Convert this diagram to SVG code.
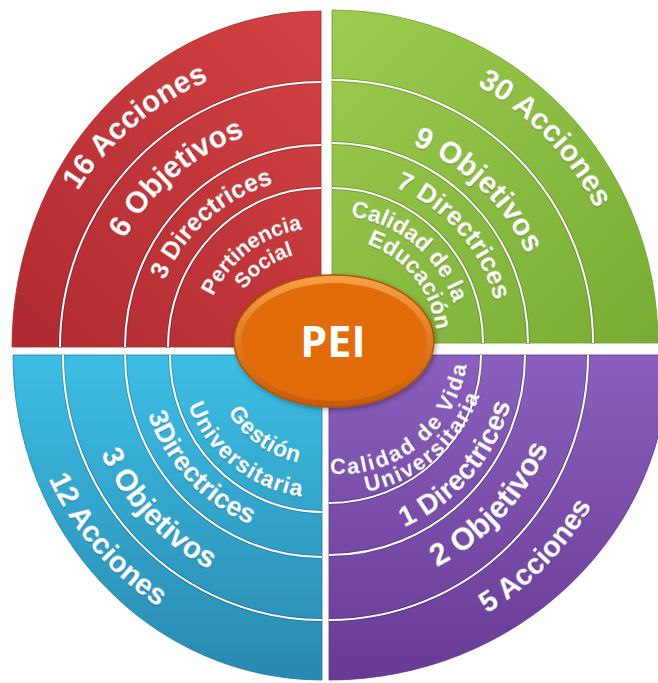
<svg xmlns="http://www.w3.org/2000/svg" xmlns:xlink="http://www.w3.org/1999/xlink" width="658" height="683" viewBox="0 0 658 683">
<style>
.lbl{font-family:"Liberation Sans",Arial,"DejaVu Sans",sans-serif;font-weight:bold;fill:#ffffff;filter:url(#ts)}
.ring{fill:none;stroke:#ffffff;stroke-width:2}
.rsh{fill:none;stroke:#000;stroke-opacity:0.18;stroke-width:4}
.pei{font-family:"Open Sans","Noto Sans","Liberation Sans",sans-serif;font-weight:bold;fill:#ffffff}
</style>
<defs>
<filter id="ts" x="-10%" y="-10%" width="120%" height="120%"><feDropShadow dx="0.8" dy="0.8" stdDeviation="0.7" flood-color="#000" flood-opacity="0.35"/></filter>
<filter id="sh" x="-20%" y="-20%" width="140%" height="140%"><feDropShadow dx="1.5" dy="2" stdDeviation="2.5" flood-color="#000" flood-opacity="0.35"/></filter>
<linearGradient id="gR" x1="1" y1="0" x2="0" y2="1"><stop offset="0" stop-color="#d44244"/><stop offset="1" stop-color="#ae2a30"/></linearGradient>
<linearGradient id="gG" x1="0" y1="0" x2="1" y2="1"><stop offset="0" stop-color="#9ccb4f"/><stop offset="1" stop-color="#79ab34"/></linearGradient>
<linearGradient id="gB" x1="0" y1="0" x2="0" y2="1"><stop offset="0" stop-color="#3dbde4"/><stop offset="1" stop-color="#2989b0"/></linearGradient>
<linearGradient id="gP" x1="0" y1="0" x2="0" y2="1"><stop offset="0" stop-color="#8b5fbd"/><stop offset="1" stop-color="#673b95"/></linearGradient>
<linearGradient id="gO" x1="0" y1="0" x2="0" y2="1"><stop offset="0" stop-color="#f7a047"/><stop offset="1" stop-color="#c75a04"/></linearGradient>
<!-- text baselines: top quadrants (tops outward) -->
<path id="t289" d="M-250.3,-144.5 A289,289 0 0 1 250.3,-144.5"/>
<path id="t224" d="M-194,-112 A224,224 0 0 1 194,-112"/>
<path id="t170" d="M-147.2,-85 A170,170 0 0 1 147.2,-85"/>
<path id="t119" d="M-103.1,-59.5 A119,119 0 0 1 103.1,-59.5"/>
<path id="t96" d="M-83.1,-48 A96,96 0 0 1 83.1,-48"/>
<path id="t296" d="M-256.3,-148 A296,296 0 0 1 256.3,-148"/>
<path id="t214" d="M-185.3,-107 A214,214 0 0 1 185.3,-107"/>
<path id="t168" d="M-145.5,-84 A168,168 0 0 1 145.5,-84"/>
<path id="t128" d="M-110.9,-64 A128,128 0 0 1 110.9,-64"/>
<path id="t105" d="M-90.9,-52.5 A105,105 0 0 1 90.9,-52.5"/>
<!-- bottom quadrants (tops inward) -->
<path id="b300" d="M-259.8,150 A300,300 0 0 0 259.8,150"/>
<path id="b242" d="M-209.6,121 A242,242 0 0 0 209.6,121"/>
<path id="b184" d="M-159.3,92 A184,184 0 0 0 159.3,92"/>
<path id="b110" d="M-95.3,55 A110,110 0 0 0 95.3,55"/>
<path id="b143" d="M-123.8,71.5 A143,143 0 0 0 123.8,71.5"/>
<path id="b303" d="M-262.4,151.5 A303,303 0 0 0 262.4,151.5"/>
<path id="b238" d="M-206.1,119 A238,238 0 0 0 206.1,119"/>
<path id="b188" d="M-162.8,94 A188,188 0 0 0 162.8,94"/>
<path id="b128" d="M-110.9,64 A128,128 0 0 0 110.9,64"/>
<path id="b148" d="M-128.2,74 A148,148 0 0 0 128.2,74"/>
</defs>
<rect width="658" height="683" fill="#ffffff"/>

<g id="connectors"/>

<g id="pertinencia-social">
<path d="M321,347 L12,347 A309,336 0 0 1 321,11 Z" fill="url(#gR)" stroke="#a8282c" stroke-width="0.8"/>
<path class="rsh" d="M60,348 A261,265 0 0 1 321,82"/>
<path class="rsh" d="M125,348 A196,202 0 0 1 321,145"/>
<path class="rsh" d="M168,348 A153,159 0 0 1 321,188"/>
<path class="ring" d="M60,347 A261,265 0 0 1 321,82"/>
<path class="ring" d="M125,347 A196,202 0 0 1 321,145"/>
<path class="ring" d="M168,347 A153,159 0 0 1 321,188"/>
<g transform="translate(321,347)">
<text class="lbl" font-size="30" transform="rotate(-40.1)"><textPath href="#t289" startOffset="50%" text-anchor="middle">16 Acciones</textPath></text>
<text class="lbl" font-size="30" transform="rotate(-40.5)"><textPath href="#t224" startOffset="50%" text-anchor="middle">6 Objetivos</textPath></text>
<text class="lbl" font-size="25" transform="rotate(-41.6)"><textPath href="#t170" startOffset="50%" text-anchor="middle">3 Directrices</textPath></text>
<text class="lbl" font-size="21.5" transform="rotate(-37)"><textPath href="#t119" startOffset="50%" text-anchor="middle">Pertinencia</textPath></text>
<text class="lbl" font-size="21" transform="rotate(-35)"><textPath href="#t96" startOffset="50%" text-anchor="middle">Social</textPath></text>
</g>
</g>

<g id="calidad-educacion">
<path d="M332,343 L332,10 A326,333 0 0 1 658,343 Z" fill="url(#gG)" stroke="#6f9e2e" stroke-width="0.8"/>
<path class="rsh" d="M332,80 A261,263 0 0 1 593,344"/>
<path class="rsh" d="M332,143 A196,200 0 0 1 528,344"/>
<path class="rsh" d="M332,188 A151,155 0 0 1 483,344"/>
<path class="ring" d="M332,80 A261,263 0 0 1 593,343" stroke="#eef3e4"/>
<path class="ring" d="M332,143 A196,200 0 0 1 528,343" stroke="#eef3e4"/>
<path class="ring" d="M332,188 A151,155 0 0 1 483,343" stroke="#eef3e4"/>
<g transform="translate(332,343)">
<text class="lbl" font-size="30" transform="rotate(46.2)"><textPath href="#t296" startOffset="50%" text-anchor="middle">30 Acciones</textPath></text>
<text class="lbl" font-size="30" transform="rotate(43.75)"><textPath href="#t214" startOffset="50%" text-anchor="middle">9 Objetivos</textPath></text>
<text class="lbl" font-size="26" transform="rotate(48.75)"><textPath href="#t168" startOffset="50%" text-anchor="middle">7 Directrices</textPath></text>
<text class="lbl" font-size="23" transform="rotate(40)"><textPath href="#t128" startOffset="50%" text-anchor="middle">Calidad de la</textPath></text>
<text class="lbl" font-size="23" transform="rotate(51.1)"><textPath href="#t105" startOffset="50%" text-anchor="middle">Educación</textPath></text>
</g>
</g>

<g id="gestion-universitaria">
<path d="M322,355 L13,355 A309,325 0 0 0 322,680 Z" fill="url(#gB)" stroke="#257c9f" stroke-width="0.8"/>
<path class="rsh" d="M63,355 A259,265 0 0 0 322,620"/>
<path class="rsh" d="M125,355 A197,202 0 0 0 322,557"/>
<path class="rsh" d="M170,355 A152,157 0 0 0 322,512"/>
<path class="ring" d="M63,355 A259,265 0 0 0 322,620" stroke="#e6eef2"/>
<path class="ring" d="M125,355 A197,202 0 0 0 322,557" stroke="#e6eef2"/>
<path class="ring" d="M170,355 A152,157 0 0 0 322,512" stroke="#e6eef2"/>
<g transform="translate(322,355)">
<text class="lbl" font-size="29.5" transform="rotate(49.3)"><textPath href="#b300" startOffset="50%" text-anchor="middle">12 Acciones</textPath></text>
<text class="lbl" font-size="30" transform="rotate(46.8)"><textPath href="#b242" startOffset="50%" text-anchor="middle">3 Objetivos</textPath></text>
<text class="lbl" font-size="27" transform="rotate(47)"><textPath href="#b184" startOffset="50%" text-anchor="middle">3Directrices</textPath></text>
<text class="lbl" font-size="23" letter-spacing="0.5" transform="rotate(35.4)"><textPath href="#b110" startOffset="50%" text-anchor="middle">Gestión</textPath></text>
<text class="lbl" font-size="23" letter-spacing="1" transform="rotate(38.55)"><textPath href="#b143" startOffset="50%" text-anchor="middle">Universitaria</textPath></text>
</g>
</g>

<g id="calidad-vida-universitaria">
<path d="M329,355 L669,355 A340,325 0 0 1 329,680 Z" fill="url(#gP)" stroke="#5e3589" stroke-width="0.8"/>
<path class="rsh" d="M588,355 A259,265 0 0 1 329,620"/>
<path class="rsh" d="M525,355 A196,200 0 0 1 329,555"/>
<path class="rsh" d="M481,355 A152,148 0 0 1 329,503"/>
<path class="ring" d="M588,355 A259,265 0 0 1 329,620"/>
<path class="ring" d="M525,355 A196,200 0 0 1 329,555"/>
<path class="ring" d="M481,355 A152,148 0 0 1 329,503"/>
<g transform="translate(329,355)">
<text class="lbl" font-size="29" transform="rotate(-45.8)"><textPath href="#b303" startOffset="50%" text-anchor="middle">5 Acciones</textPath></text>
<text class="lbl" font-size="31" transform="rotate(-47.1)"><textPath href="#b238" startOffset="50%" text-anchor="middle">2 Objetivos</textPath></text>
<text class="lbl" font-size="28" transform="rotate(-49.3)"><textPath href="#b188" startOffset="50%" text-anchor="middle">1 Directrices</textPath></text>
</g>
<g transform="translate(340,346)">
<text class="lbl" font-size="22" letter-spacing="2" transform="rotate(-38.85)"><textPath href="#b128" startOffset="50%" text-anchor="middle">Calidad de Vida</textPath></text>
<text class="lbl" font-size="22" letter-spacing="1.8" transform="rotate(-40.65)"><textPath href="#b148" startOffset="50%" text-anchor="middle">Universitaria</textPath></text>
</g>
</g>

<g id="pei">
<ellipse cx="334" cy="341" rx="100" ry="66" fill="url(#gO)" stroke="#b35200" stroke-width="1.5" filter="url(#sh)"/>
<ellipse cx="334" cy="342" rx="93" ry="59" fill="#e36c0a"/>
<text class="pei" x="333" y="357" font-size="43" text-anchor="middle">PEI</text>
</g>
</svg>
